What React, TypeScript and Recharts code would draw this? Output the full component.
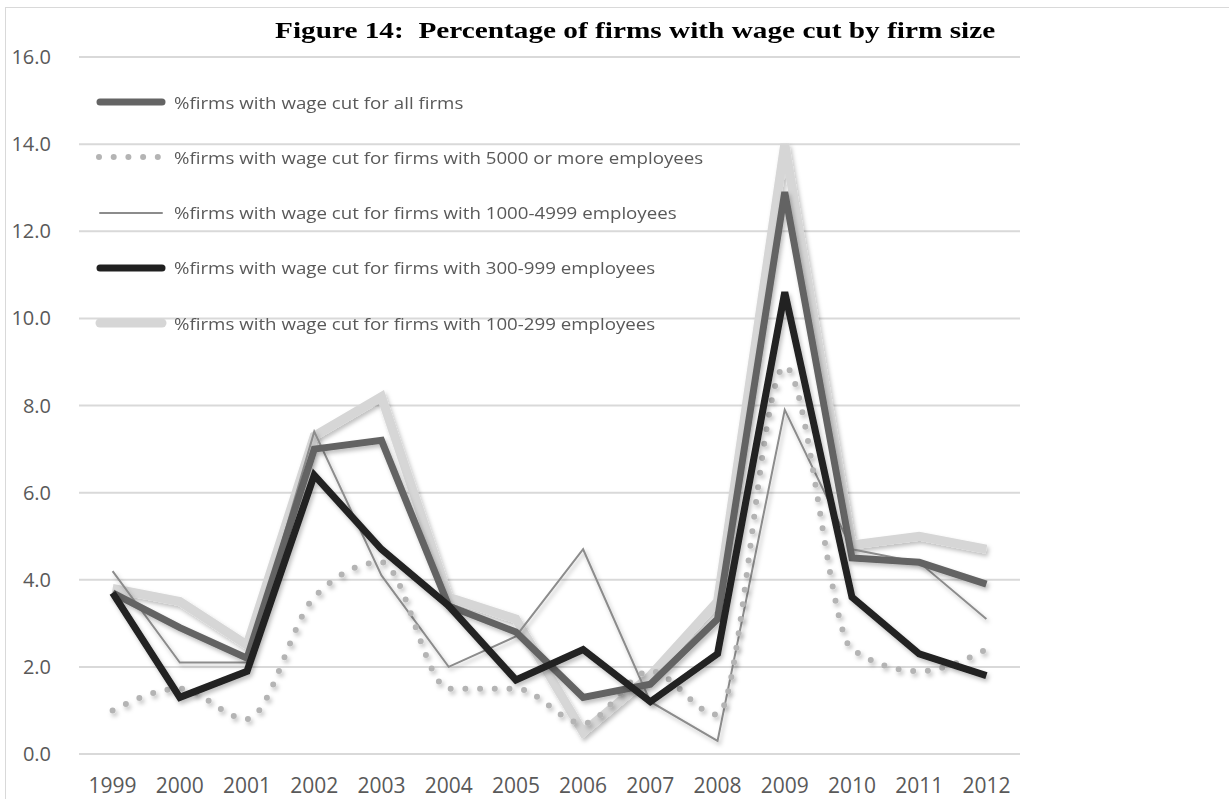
import { CartesianGrid, Line, LineChart, XAxis, YAxis } from "recharts";

const years = ["1999", "2000", "2001", "2002", "2003", "2004", "2005", "2006", "2007", "2008", "2009", "2010", "2011", "2012"];
const allFirms = [3.7, 2.9, 2.2, 7.0, 7.2, 3.4, 2.8, 1.3, 1.6, 3.1, 12.9, 4.5, 4.4, 3.9];
const firms5000 = [1.0, 1.5, 0.8, 3.6, 4.4, 1.5, 1.5, 0.7, 1.9, 0.9, 8.9, 2.4, 1.9, 2.4];
const firms1000 = [4.2, 2.1, 2.1, 7.4, 4.1, 2.0, 2.7, 4.7, 1.2, 0.3, 7.9, 4.7, 4.4, 3.1];
const firms300 = [3.7, 1.3, 1.9, 6.4, 4.7, 3.4, 1.7, 2.4, 1.2, 2.3, 10.6, 3.6, 2.3, 1.8];
const firms100 = [3.8, 3.5, 2.5, 7.3, 8.2, 3.6, 3.1, 0.5, 1.8, 3.5, 14.0, 4.8, 5.0, 4.7];
const yTicks = [0, 2, 4, 6, 8, 10, 12, 14, 16];

const data = years.map((year, i) => ({
  year,
  all: allFirms[i],
  f5000: firms5000[i],
  f1000: firms1000[i],
  f300: firms300[i],
  f100: firms100[i],
}));

const legendItems = [
  { label: "%firms with wage cut for all firms", color: "#646464", width: 7, dash: undefined },
  { label: "%firms with wage cut for firms with 5000 or more employees", color: "#b4b4b4", width: 6, dash: "0 14.7" },
  { label: "%firms with wage cut for firms with 1000-4999 employees", color: "#8c8c8c", width: 2, dash: undefined },
  { label: "%firms with wage cut for firms with 300-999 employees", color: "#202020", width: 7, dash: undefined },
  { label: "%firms with wage cut for firms with 100-299 employees", color: "#d6d6d6", width: 9, dash: undefined },
];

const font = "'Open Sans', sans-serif";

function ChartLegend() {
  return (
    <div style={{ position: "absolute", left: 95, top: 74.5, zIndex: 2 }}>
      {legendItems.map((item) => (
        <div key={item.label} style={{ display: "flex", alignItems: "center", height: 55.25 }}>
          <svg width={72} height={14}>
            <line
              x1={item.dash ? 4 : 5}
              y1={7}
              x2={item.dash ? 70 : 67}
              y2={7}
              stroke={item.color}
              strokeWidth={item.width}
              strokeLinecap="round"
              strokeDasharray={item.dash}
            />
          </svg>
          <span
            style={{
              marginLeft: 7,
              fontFamily: font,
              fontSize: 17,
              color: "#595959",
              whiteSpace: "nowrap",
              display: "inline-block",
              transform: "scaleX(1.1)",
              transformOrigin: "left center",
            }}
          >
            {item.label}
          </span>
        </div>
      ))}
    </div>
  );
}

export default function App() {
  return (
    <div style={{ position: "absolute", left: 0, top: 0, width: 1229, height: 799, background: "#fff" }}>
      <div
        style={{
          position: "absolute",
          left: 5,
          top: 7,
          right: 0,
          bottom: 0,
          borderLeft: "1px solid #d9d9d9",
          borderTop: "1px solid #d9d9d9",
        }}
      />
      <div
        style={{
          position: "absolute",
          left: 275,
          top: 17,
          fontFamily: "'Liberation Serif', 'Times New Roman', serif",
          fontWeight: "bold",
          fontSize: 24,
          whiteSpace: "nowrap",
          color: "#000",
          zIndex: 2,
          transform: "scaleX(1.22)",
          transformOrigin: "left center",
        }}
      >
        Figure 14:&nbsp; Percentage of firms with wage cut by firm size
      </div>
      <ChartLegend />
      <div style={{ position: "absolute", left: 0, top: 0 }}>
        <LineChart width={1229} height={799} data={data} margin={{ top: 57, right: 209, bottom: 15, left: 0 }}>
          <defs>
            <filter id="shadow" x="-10%" y="-10%" width="120%" height="130%">
              <feDropShadow dx="2" dy="3" stdDeviation="2" floodColor="#000" floodOpacity="0.25" />
            </filter>
          </defs>
          <CartesianGrid vertical={false} stroke="#d9d9d9" strokeWidth={2} />
          <XAxis
            dataKey="year"
            height={30}
            axisLine={false}
            tickLine={false}
            tickSize={8}
            tickMargin={16}
            interval={0}
            padding={{ left: 33.6, right: 33.6 }}
            tick={{ fill: "#595959", fontFamily: font, fontSize: 21 }}
          />
          <YAxis
            domain={[0, 16]}
            ticks={yTicks}
            width={79}
            axisLine={false}
            tickLine={false}
            tickSize={8}
            tickMargin={20}
            tickFormatter={(v: number) => v.toFixed(1)}
            tick={{ fill: "#595959", fontFamily: font, fontSize: 20 }}
          />
          <Line type="linear" dataKey="f100" stroke="#d6d6d6" strokeWidth={9} dot={false} isAnimationActive={false} filter="url(#shadow)" />
          <Line type="linear" dataKey="f1000" stroke="#8c8c8c" strokeWidth={2} dot={false} isAnimationActive={false} filter="url(#shadow)" />
          <Line
            type="monotone"
            dataKey="f5000"
            stroke="#b4b4b4"
            strokeWidth={6}
            strokeDasharray="0 14.7"
            strokeLinecap="round"
            dot={false}
            isAnimationActive={false}
            filter="url(#shadow)"
          />
          <Line type="linear" dataKey="all" stroke="#646464" strokeWidth={7} dot={false} isAnimationActive={false} filter="url(#shadow)" />
          <Line type="linear" dataKey="f300" stroke="#202020" strokeWidth={7} dot={false} isAnimationActive={false} filter="url(#shadow)" />
        </LineChart>
      </div>
    </div>
  );
}
